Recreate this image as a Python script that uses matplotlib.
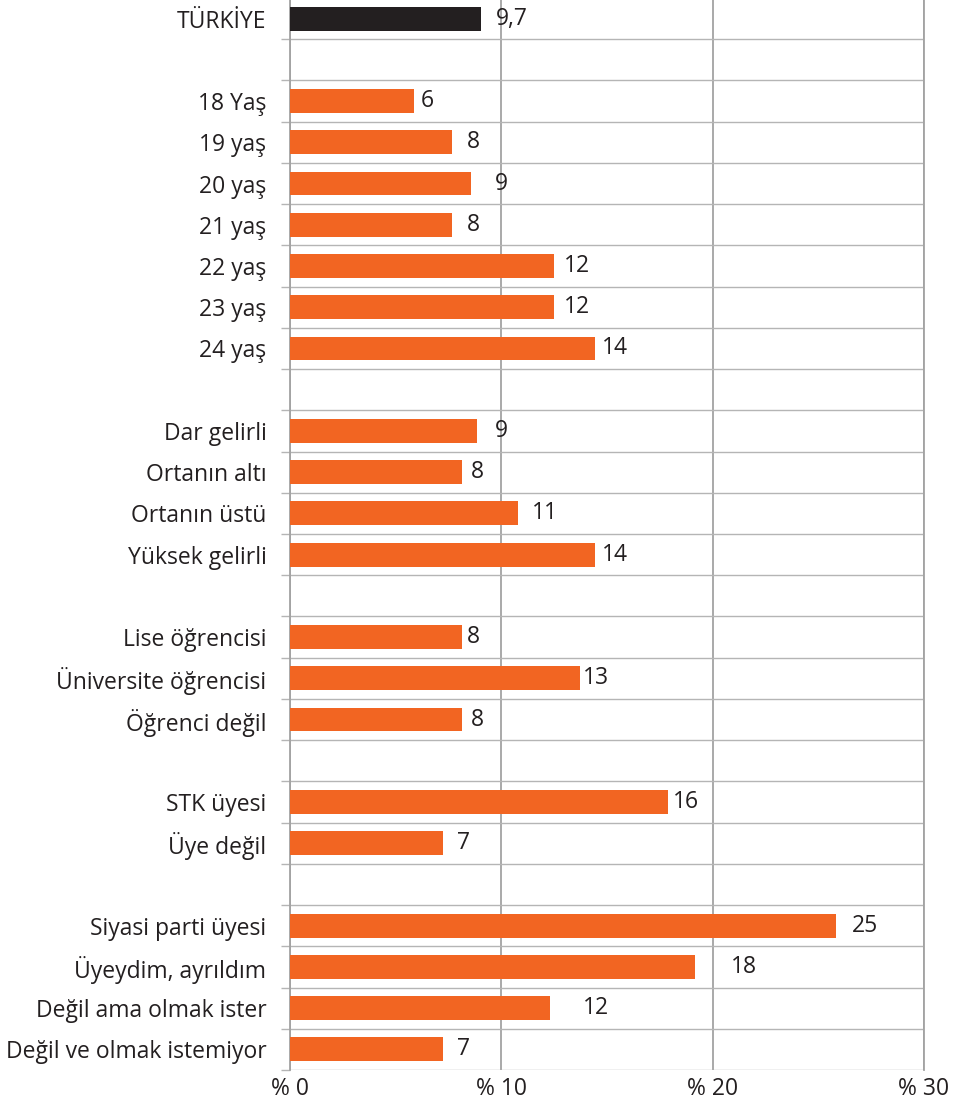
import numpy as np
import matplotlib
matplotlib.use("Agg")
import matplotlib.pyplot as plt

turkiye_label = ["TÜRKİYE"]
turkiye_values = [9.04]
turkiye_text = ["9,7"]

age_labels = ["18 Yaş", "19 yaş", "20 yaş", "21 yaş", "22 yaş", "23 yaş", "24 yaş"]
age_values = [5.87, 7.65, 8.56, 7.67, 12.49, 12.49, 14.43]
age_text = ["6", "8", "9", "8", "12", "12", "14"]

income_labels = ["Dar gelirli", "Ortanın altı", "Ortanın üstü", "Yüksek gelirli"]
income_values = [8.85, 8.14, 10.79, 14.43]
income_text = ["9", "8", "11", "14"]

student_labels = ["Lise öğrencisi", "Üniversite öğrencisi", "Öğrenci değil"]
student_values = [8.14, 13.72, 8.14]
student_text = ["8", "13", "8"]

ngo_labels = ["STK üyesi", "Üye değil"]
ngo_values = [17.89, 7.24]
ngo_text = ["16", "7"]

party_labels = ["Siyasi parti üyesi", "Üyeydim, ayrıldım", "Değil ama olmak ister",
                "Değil ve olmak istemiyor"]
party_values = [25.84, 19.16, 12.30, 7.24]
party_text = ["25", "18", "12", "7"]

x_ticks = [0, 10, 20, 30]
x_tick_labels = ["% 0", "% 10", "% 20", "% 30"]

# gap (px) between bar end and its value label, as drawn in the original
label_gap_px = [15, 7, 15, 24, 15, 10, 10, 7, 18, 9, 14, 7, 5, 3, 9, 5, 14, 16, 36, 33, 14]

ORANGE = "#f26522"
DARK = "#231f20"
GRID_V = "#a3a3a3"
GRID_H = "#b5b5b5"
FS = 16.5

plt.rcParams["font.family"] = ["Open Sans", "DejaVu Sans"]

# build rows with blank separator rows between groups
groups = [
    (turkiye_label, turkiye_values, turkiye_text, DARK),
    (age_labels, age_values, age_text, ORANGE),
    (income_labels, income_values, income_text, ORANGE),
    (student_labels, student_values, student_text, ORANGE),
    (ngo_labels, ngo_values, ngo_text, ORANGE),
    (party_labels, party_values, party_text, ORANGE),
]
row_labels, row_pos, row_vals, row_texts, row_colors = [], [], [], [], []
pos = 0
for labels, vals, texts, color in groups:
    for lab, v, t in zip(labels, vals, texts):
        row_labels.append(lab)
        row_pos.append(pos)
        row_vals.append(v)
        row_texts.append(t)
        row_colors.append(color)
        pos += 1
    pos += 1  # empty row
n_rows = pos - 1

W, H = 957, 1106
fig = plt.figure(figsize=(W / 100, H / 100), dpi=100)
ax = fig.add_axes([290 / W, 36 / H, 634 / W, 1072 / H])

ax.barh(row_pos, row_vals, height=0.58, color=row_colors, zorder=3)

for y, v, t, g in zip(row_pos, row_vals, row_texts, label_gap_px):
    ax.annotate(t, xy=(v, y), xytext=(g * 0.72, 0), textcoords="offset points",
                va="center", ha="left", fontsize=FS, color=DARK, zorder=4)

ax.set_xlim(0, 30)
ax.set_ylim(n_rows - 0.5, -0.5)

ax.set_xticks(x_ticks)
ax.set_xticklabels(x_tick_labels, fontsize=FS, color=DARK)
ax.set_yticks(row_pos)
ax.set_yticklabels(row_labels, fontsize=FS, color=DARK)
ax.set_yticks(np.arange(-0.5, n_rows), minor=True)

ax.tick_params(axis="x", length=0, pad=5)
ax.tick_params(axis="y", which="major", length=0, pad=17)
ax.tick_params(axis="y", which="minor", length=6.5, width=1.0, color=GRID_H)

ax.grid(axis="x", color=GRID_V, linewidth=1.3, zorder=1)
ax.grid(axis="y", which="minor", color=GRID_H, linewidth=1.0, zorder=1)

for side in ["top", "bottom"]:
    ax.spines[side].set_visible(False)
for side in ["left", "right"]:
    ax.spines[side].set_color(GRID_V)
    ax.spines[side].set_linewidth(1.3)

fig.savefig("out.png", dpi=100)
